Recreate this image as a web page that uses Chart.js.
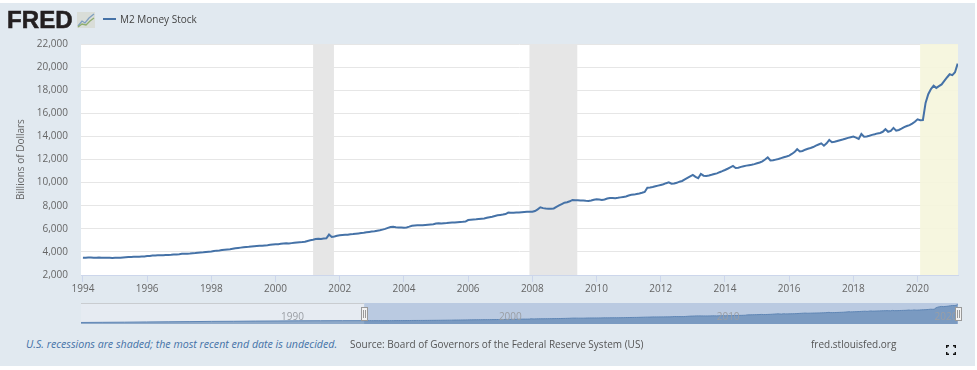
<!DOCTYPE html>
<html lang="en">
<head>
    <meta charset="UTF-8">
    <title>M2 Money Stock</title>
    <script src="https://cdn.jsdelivr.net/npm/chart.js"></script>
    <style>
        html, body { margin: 0; padding: 0; background: #fff; overflow: hidden; }
        #page {
            position: absolute; left: 0; top: 3px; width: 975px; height: 363px;
            background: #e1e9f0; font-family: "Open Sans", sans-serif;
        }
        canvas { position: absolute; left: 0; }
        #mainChart { top: -3px; }
        #navChart { top: 292px; }
        .txt { position: absolute; white-space: nowrap; font-size: 10px; line-height: 14px; color: #555; }
        #logo { left: 7px; top: 4px; font: bold 24px/26px "Liberation Sans", sans-serif; letter-spacing: 0.1px; color: #231f20; -webkit-text-stroke: 0.6px #231f20; }
        #legendLine { position: absolute; left: 103px; top: 15px; width: 13px; height: 2px; background: #4572a7; }
        #legendText { left: 120px; top: 9px; color: #444; }
        #note { left: 26px; top: 334px; font-size: 10.65px; font-style: italic; color: #4572a7; }
        #source { left: 350px; top: 334px; }
        #site { left: 811px; top: 334px; }
        #icon { position: absolute; left: 77px; top: 9px; }
        #full { position: absolute; left: 946px; top: 342px; }
    </style>
</head>
<body>
    <div id="page">
        <canvas id="mainChart" width="977" height="300"></canvas>
        <canvas id="navChart" width="977" height="40"></canvas>
        <div class="txt" id="logo">FRED</div>
        <svg id="icon" width="18" height="16" viewBox="0 0 18 16">
            <rect width="18" height="16" fill="#d9ddd8"/>
            <polyline points="1,14 5,9 8,11 12,6 17,2" fill="none" stroke="#7f9fc0" stroke-width="1.3"/>
            <polyline points="1,15 5,12 9,13 13,9 17,6" fill="none" stroke="#8fae6f" stroke-width="1.3"/>
        </svg>
        <div id="legendLine"></div>
        <div class="txt" id="legendText">M2 Money Stock</div>
        <div class="txt" id="note">U.S. recessions are shaded; the most recent end date is undecided.</div>
        <div class="txt" id="source">Source: Board of Governors of the Federal Reserve System (US)</div>
        <div class="txt" id="site">fred.stlouisfed.org</div>
        <svg id="full" width="10" height="10" viewBox="0 0 10 10">
            <path d="M0.7 3V0.7H3M7 0.7H9.3V3M9.3 7V9.3H7M3 9.3H0.7V7" fill="none" stroke="#111" stroke-width="1.4"/>
        </svg>
    </div>

    <script>
        // monthly M2, billions of dollars, Jan 1994 to Apr 2021
        const startYear = 1994;
        const m2Values = [
            3500, 3490, 3510, 3520, 3500, 3490, 3510, 3500, 3490, 3500, 3490, 3480,
            3490, 3500, 3490, 3510, 3530, 3550, 3560, 3570, 3580, 3590, 3600, 3610,
            3640, 3650, 3680, 3690, 3700, 3710, 3720, 3730, 3740, 3745, 3770, 3780,
            3800, 3830, 3840, 3850, 3860, 3880, 3900, 3930, 3950, 3970, 4000, 4020,
            4040, 4080, 4110, 4130, 4160, 4190, 4210, 4230, 4270, 4310, 4340, 4370,
            4400, 4420, 4440, 4470, 4490, 4510, 4530, 4540, 4560, 4580, 4610, 4640,
            4660, 4670, 4700, 4730, 4740, 4730, 4760, 4790, 4810, 4830, 4850, 4880,
            4950, 5000, 5050, 5110, 5130, 5120, 5150, 5170, 5500, 5290, 5340, 5400,
            5450, 5470, 5480, 5480, 5520, 5540, 5570, 5600, 5630, 5660, 5700, 5730,
            5760, 5790, 5830, 5870, 5930, 5990, 6080, 6150, 6170, 6140, 6120, 6120,
            6100, 6120, 6190, 6270, 6290, 6300, 6310, 6310, 6330, 6350, 6370, 6390,
            6460, 6470, 6450, 6480, 6500, 6530, 6550, 6540, 6570, 6590, 6600, 6620,
            6760, 6780, 6800, 6820, 6850, 6880, 6900, 6950, 7000, 7050, 7110, 7170,
            7200, 7230, 7280, 7400, 7390, 7400, 7410, 7420, 7440, 7460, 7470, 7480,
            7480, 7540, 7680, 7860, 7790, 7750, 7740, 7730, 7760, 7900, 8020, 8140,
            8260, 8300, 8380, 8500, 8470, 8480, 8450, 8440, 8420, 8410, 8450, 8510,
            8560, 8530, 8500, 8540, 8620, 8670, 8660, 8650, 8680, 8720, 8760, 8800,
            8880, 8940, 8960, 9020, 9060, 9120, 9190, 9550, 9580, 9620, 9680, 9740,
            9800, 9860, 9950, 10020, 9900, 9930, 9980, 10080, 10140, 10270, 10400, 10530,
            10660, 10500, 10380, 10750, 10600, 10580, 10620, 10680, 10750, 10800, 10900, 10990,
            11090, 11200, 11320, 11440, 11270, 11290, 11360, 11420, 11470, 11510, 11540, 11600,
            11670, 11740, 11840, 12000, 12190, 11920, 11930, 11990, 12050, 12120, 12190, 12260,
            12340, 12480, 12640, 12890, 12700, 12740, 12850, 12930, 13000, 13080, 13200, 13300,
            13400, 13200, 13400, 13690, 13500, 13530, 13600, 13670, 13730, 13800, 13870, 13930,
            13980, 13900, 13780, 14210, 13980, 14000, 14060, 14130, 14190, 14260, 14300, 14400,
            14620, 14400, 14480, 14740, 14500, 14560, 14670, 14800, 14900, 14980, 15110, 15270,
            15480, 15400, 15420, 16900, 17650, 18100, 18390, 18200, 18350, 18500, 18800, 19100,
            19380, 19300, 19550, 20300
        ];
        // yearly values before the main window, only seen in the navigator
        const earlyYears = [1981, 1982, 1983, 1984, 1985, 1986, 1987, 1988, 1989, 1990, 1991, 1992, 1993];
        const earlyValues = [1600, 1760, 1910, 2130, 2320, 2500, 2740, 2840, 3060, 3170, 3350, 3420, 3480];

        const recessionStarts = [2001.17, 2007.91, 2020.08];
        const recessionEnds = [2001.82, 2009.4, 2021.26];
        const recessionColors = ['#e6e6e6', '#e6e6e6', 'rgba(245,245,220,0.9)'];
        const navLabels = [1990, 2000, 2010, 2020];

        const fontName = '"Open Sans", sans-serif';
        const m2Points = m2Values.map((v, i) => ({ x: startYear + i / 12, y: v }));
        const earlyPoints = earlyYears.map((yr, i) => ({ x: yr, y: earlyValues[i] }));

        const plotBack = {
            id: 'plotBack',
            beforeDraw(chart) {
                const a = chart.chartArea;
                chart.ctx.fillStyle = '#fff';
                chart.ctx.fillRect(a.left, a.top, a.width, a.height);
            },
            beforeDatasetsDraw(chart) {
                const a = chart.chartArea, x = chart.scales.x, ctx = chart.ctx;
                recessionStarts.forEach((s, i) => {
                    const x0 = x.getPixelForValue(s), x1 = x.getPixelForValue(recessionEnds[i]);
                    ctx.fillStyle = recessionColors[i];
                    ctx.fillRect(x0, a.top, x1 - x0, a.height);
                });
            }
        };

        new Chart(document.getElementById('mainChart'), {
            type: 'line',
            plugins: [plotBack],
            data: {
                datasets: [{
                    label: 'M2 Money Stock',
                    data: m2Points,
                    borderColor: '#4572a7',
                    borderWidth: 2,
                    pointRadius: 0,
                    fill: false
                }]
            },
            options: {
                responsive: false,
                animation: false,
                devicePixelRatio: 1,
                layout: { padding: { top: 44, right: 19, left: 0, bottom: 0 } },
                plugins: { legend: { display: false }, tooltip: { enabled: false } },
                scales: {
                    x: {
                        type: 'linear',
                        min: 1993.94,
                        max: 2021.26,
                        afterFit(s) { s.height = 25; },
                        border: { color: '#ccd6eb' },
                        grid: { drawOnChartArea: false, tickColor: '#ccd6eb', tickLength: 7 },
                        ticks: {
                            stepSize: 2,
                            includeBounds: false,
                            autoSkip: false,
                            maxTicksLimit: 20,
                            maxRotation: 0,
                            padding: 1,
                            color: '#666',
                            font: { family: fontName, size: 10 },
                            callback: v => String(v)
                        }
                    },
                    y: {
                        min: 2000,
                        max: 22000,
                        afterFit(s) { s.width = 81; },
                        border: { display: false },
                        grid: { color: '#e6e6e6', drawTicks: false },
                        title: {
                            display: true,
                            text: 'Billions of Dollars',
                            color: '#666',
                            font: { family: fontName, size: 10 },
                            padding: { top: 15, bottom: 0 }
                        },
                        ticks: {
                            stepSize: 2000,
                            padding: 13,
                            color: '#666',
                            font: { family: fontName, size: 10 },
                            callback: v => v.toLocaleString('en-US')
                        }
                    }
                }
            }
        });

        // navigator strip under the main chart
        const navBand = {
            id: 'navBand',
            beforeDatasetsDraw(chart) {
                const a = chart.chartArea, x = chart.scales.x, ctx = chart.ctx;
                const selLeft = x.getPixelForValue(startYear);
                ctx.fillStyle = '#e6ebf2';
                ctx.fillRect(a.left, a.top, selLeft - a.left, a.height);
                ctx.fillStyle = '#bacae1';
                ctx.fillRect(selLeft, a.top, a.right - selLeft, a.height);
                ctx.fillStyle = '#c9ccd0';
                ctx.fillRect(a.left, a.top, selLeft - a.left, 1);
            },
            afterDatasetsDraw(chart) {
                const a = chart.chartArea, x = chart.scales.x, ctx = chart.ctx;
                ctx.fillStyle = '#9a9ea4';
                ctx.font = '10px ' + fontName;
                ctx.textBaseline = 'middle';
                navLabels.forEach(yr => ctx.fillText(String(yr), x.getPixelForValue(yr) + 4, a.top + 14));
                [x.getPixelForValue(startYear), a.right].forEach(px => {
                    const hx = Math.round(px) - 3;
                    ctx.fillStyle = '#f2f2f2';
                    ctx.strokeStyle = '#999';
                    ctx.fillRect(hx, a.top + 4, 6, 13);
                    ctx.strokeRect(hx + 0.5, a.top + 4.5, 6, 13);
                    ctx.beginPath();
                    ctx.moveTo(hx + 2.5, a.top + 7); ctx.lineTo(hx + 2.5, a.top + 15);
                    ctx.moveTo(hx + 4.5, a.top + 7); ctx.lineTo(hx + 4.5, a.top + 15);
                    ctx.stroke();
                });
            }
        };

        new Chart(document.getElementById('navChart'), {
            type: 'line',
            plugins: [navBand],
            data: {
                datasets: [{
                    data: earlyPoints.concat(m2Points),
                    borderColor: '#5f86b5',
                    borderWidth: 1,
                    backgroundColor: 'rgba(69,114,167,0.55)',
                    pointRadius: 0,
                    fill: 'origin'
                }]
            },
            options: {
                responsive: false,
                animation: false,
                devicePixelRatio: 1,
                layout: { padding: { left: 81, right: 19, top: 8, bottom: 11 } },
                plugins: { legend: { display: false }, tooltip: { enabled: false } },
                scales: {
                    x: { type: 'linear', display: false, min: 1981, max: 2021.26 },
                    y: { display: false, min: 0, max: 22000 }
                }
            }
        });
    </script>
</body>
</html>
